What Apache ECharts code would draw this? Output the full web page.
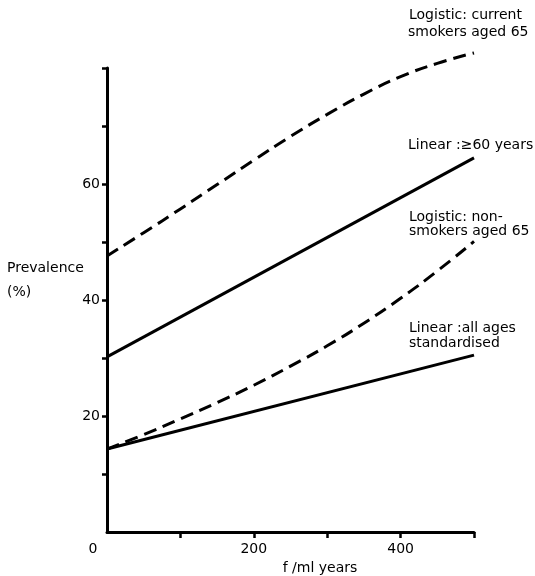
<!DOCTYPE html>
<html>
<head>
<meta charset="utf-8">
<script src="https://cdn.jsdelivr.net/npm/echarts@6/dist/echarts.min.js"></script>
<style>html,body{margin:0;padding:0;background:#fff}#c{width:535px;height:576px}</style>
</head>
<body>
<div id="c"></div>
<script>
// Data
const xLogistic = [0, 50, 100, 150, 200, 250, 300, 350, 400, 450, 500];
const currentSmokers65 = [47.6, 51.6, 55.7, 59.9, 64.1, 68.2, 72.0, 75.5, 78.5, 80.8, 82.6];
const nonSmokers65 = [14.3, 16.8, 19.5, 22.3, 25.3, 28.6, 32.1, 36.0, 40.3, 45.0, 50.1];
const xLinear = [0, 500];
const linearOver60 = [30.2, 64.5];
const linearAllAges = [14.3, 30.5];
const yTickValues = [10, 20, 30, 40, 50, 60, 70, 80];
const yTickLabels = [20, 40, 60];
const xTickValues = [100, 200, 300, 400, 500];
const xTickLabels = [0, 200, 400];

const FONT = 'DejaVu Sans';
const pair = (xs, ys) => xs.map((x, i) => [x, ys[i]]);

const chart = echarts.init(document.getElementById('c'), null, {renderer: 'canvas'});
const txt = (x, y, t) => ({
  type: 'text', x: x, y: y,
  style: {text: t, fill: '#000', font: '14px "' + FONT + '"', textVerticalAlign: 'middle', textAlign: 'left'}
});
chart.setOption({
  backgroundColor: '#fff',
  animation: false,
  grid: {left: 107, right: 61, top: 68, bottom: 44},
  xAxis: {
    type: 'value', min: 0, max: 500, interval: 100,
    axisLine: {lineStyle: {color: '#000', width: 3}},
    axisTick: {show: true, length: 6, customValues: xTickValues, lineStyle: {color: '#000', width: 2.5}},
    splitLine: {show: false},
    axisLabel: {
      margin: 10, color: '#000', fontFamily: FONT, fontSize: 14,
      customValues: xTickLabels,
      formatter: v => (v === 0 ? '{z|0}' : String(v)),
      rich: {z: {padding: [0, 28, 0, 0], color: '#000', fontFamily: FONT, fontSize: 14}}
    }
  },
  yAxis: {
    type: 'value', min: 0, max: 80, interval: 10,
    axisLine: {show: true, lineStyle: {color: '#000', width: 3}},
    axisTick: {show: true, length: 5, customValues: yTickValues, lineStyle: {color: '#000', width: 2.5}},
    splitLine: {show: false},
    axisLabel: {
      margin: 7, color: '#000', fontFamily: FONT, fontSize: 14,
      customValues: yTickLabels,
      formatter: v => String(v)
    }
  },
  series: [
    {type: 'line', data: pair(xLogistic, currentSmokers65), smooth: true, symbol: 'none', clip: false,
     lineStyle: {color: '#000', width: 3, type: [13, 7]}},
    {type: 'line', data: pair(xLinear, linearOver60), symbol: 'none', clip: false,
     lineStyle: {color: '#000', width: 3}},
    {type: 'line', data: pair(xLogistic, nonSmokers65), smooth: true, symbol: 'none', clip: false,
     lineStyle: {color: '#000', width: 3, type: [13, 7]}},
    {type: 'line', data: pair(xLinear, linearAllAges), symbol: 'none', clip: false,
     lineStyle: {color: '#000', width: 3}}
  ],
  graphic: [
    txt(409, 15, 'Logistic: current'),
    txt(408, 32, 'smokers aged 65'),
    txt(408, 145, 'Linear :≥60 years'),
    txt(409, 217, 'Logistic: non-'),
    txt(409, 231, 'smokers aged 65'),
    txt(409, 328, 'Linear :all ages'),
    txt(409, 343, 'standardised'),
    txt(7, 268, 'Prevalence'),
    txt(7, 292, '(%)'),
    {type: 'text', x: 320, y: 568, style: {text: 'f /ml years', fill: '#000', font: '14px "' + FONT + '"', textAlign: 'center', textVerticalAlign: 'middle'}}
  ]
});
</script>
</body>
</html>
